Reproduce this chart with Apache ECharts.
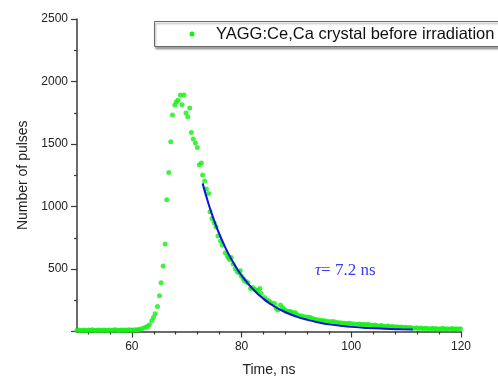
<!DOCTYPE html>
<html>
<head>
<meta charset="utf-8">
<script src="https://cdn.jsdelivr.net/npm/echarts@6/dist/echarts.min.js"></script>
<style>
html,body{margin:0;padding:0;background:#fff;}
#chart{width:498px;height:378px;}
</style>
</head>
<body>
<div id="chart"></div>
<script>
// ---- data ----
const times = [
  50.00,50.35,50.70,51.05,51.40,51.75,52.10,52.45,52.80,53.15,53.50,53.85,54.20,54.55,54.90,55.25,55.60,55.95,56.30,56.65,
  57.00,57.35,57.70,58.05,58.40,58.75,59.10,59.45,59.80,60.15,60.50,60.85,61.20,
  61.50,61.90,62.40,62.80,63.20,63.64,63.94,64.24,64.67,65.03,65.33,65.70,66.06,66.36,66.73,67.09,67.40,67.82,68.12,68.42,
  68.85,69.15,69.51,69.87,70.18,70.55,70.85,71.20,71.58,71.94,72.30,72.67,72.90,73.27,73.60,74.00,74.25,74.60,75.00,75.33,
  75.70,76.18,76.50,77.03,77.40,77.64,77.82,78.10,78.45,78.85,79.20,79.50,79.75,79.94,80.30,80.55,80.85,81.15,81.64,82.00,
  82.35,82.70,83.00,83.33,83.58,84.18,84.60,85.00,85.40,86.00,86.30,86.60,87.10,87.45,87.80,88.10,88.40,88.70,89.00,89.40,
  89.80,90.15,90.50,90.90,91.40,91.90,92.40,92.85,93.30,93.75,94.20,94.65,95.10,95.55,96.00,96.45,96.90,97.35,97.80,98.25,
  98.70,99.15,99.60,100.05,100.50,101.00,101.50,101.90,102.30,102.70,103.10,103.50,103.90,104.30,104.70,105.10,105.50,105.90,
  106.30,106.70,107.10,107.50,107.90,108.30,108.70,109.10,109.50,109.90,110.30,110.70,111.10,111.50,111.90,112.30,112.70,
  113.10,113.50,113.90,114.30,114.70,115.10,115.50,115.90,116.30,116.70,117.10,117.50,117.90,118.30,118.70,119.10,119.50,119.90
];
const counts = [
  10,12,8,11,13,9,12,10,14,9,11,13,10,8,12,11,9,13,10,12,
  14,11,9,12,10,13,11,15,12,10,14,13,16,
  17,25,33,41,55,87,113,143,201,287,391,524,700,1055,1273,1519,1732,1812,1838,1850,
  1892,1815,1892,1748,1718,1788,1593,1540,1508,1473,1335,1348,1252,1204,1140,1105,958,905,870,838,
  764,724,690,631,604,588,577,593,540,502,480,470,487,444,425,407,400,391,345,352,
  340,330,328,345,305,273,252,245,231,225,186,172,212,190,178,165,158,160,158,150,
  150,135,124,126,118,116,114,106,98,94,92,88,86,82,78,80,78,72,70,68,
  66,64,66,62,60,58,60,56,58,52,58,50,48,52,46,44,48,42,
  40,44,38,40,36,38,34,36,32,34,30,32,28,26,30,24,28,
  22,26,24,20,26,22,24,18,22,26,20,22,18,24,20,22,18,22
];
// exponential fit curve (tau = 7.2 ns)
const fitTimes  = [72.9,74,75,76,77,78,79,80,82,84,86,88,90,92,94,96,98,100,103,106,109,111.2];
const fitCounts = [1185,1018,888,774,675,589,514,448,342,261,200,154,119,93,73,57,46,37,28,22,18,16];

const xMajorTicks = [60, 80, 100, 120];
const xMinorTicks = [52, 56, 64, 68, 72, 76, 84, 88, 92, 96, 104, 108, 112, 116];
const seriesName = 'YAGG:Ce,Ca crystal before irradiation';
const annotation = '7.2 ns';

const scatterData = times.map((t, i) => [t, counts[i]]);
const fitData = fitTimes.map((t, i) => [t, fitCounts[i]]);

const axisColor = '#3a3a3a';
const green = '#11f011';
const font = 'Liberation Sans, Arial, sans-serif';

const chart = echarts.init(document.getElementById('chart'), null, {renderer: 'canvas'});
chart.setOption({
  animation: false,
  backgroundColor: '#ffffff',
  grid: {left: 77, right: 37, top: 19, bottom: 46.5, containLabel: false, outerBoundsMode: 'none'},
  xAxis: [{
    type: 'value', min: 50, max: 120,
    name: 'Time, ns', nameLocation: 'middle', nameGap: 32,
    nameTextStyle: {fontFamily: font, fontSize: 14, color: '#222'},
    axisLine: {show: true, onZero: false, lineStyle: {color: axisColor, width: 1.5}},
    axisTick: {show: true, customValues: xMajorTicks, length: 6, lineStyle: {color: axisColor, width: 1.2}},
    axisLabel: {customValues: xMajorTicks, margin: 9, fontFamily: font, fontSize: 12, color: '#222'},
    splitLine: {show: false}
  }, {
    type: 'value', min: 50, max: 120, position: 'bottom',
    axisLine: {show: false},
    axisTick: {show: true, customValues: xMinorTicks, length: 3, lineStyle: {color: axisColor, width: 1.2}},
    axisLabel: {show: false},
    splitLine: {show: false}
  }],
  yAxis: {
    type: 'value', min: 0, max: 2500, interval: 500,
    name: 'Number of pulses', nameLocation: 'middle', nameGap: 37,
    nameTextStyle: {fontFamily: font, fontSize: 14, color: '#222'},
    axisLine: {show: true, lineStyle: {color: axisColor, width: 1.5}},
    axisTick: {show: true, length: 6, lineStyle: {color: axisColor, width: 1.2}},
    minorTick: {show: true, splitNumber: 2, length: 3, lineStyle: {color: axisColor, width: 1.2}},
    axisLabel: {margin: 9, fontFamily: font, fontSize: 12, color: '#222',
      formatter: v => (v === 0 ? '' : String(v))},
    splitLine: {show: false}, minorSplitLine: {show: false}
  },
  series: [{
    name: seriesName, type: 'scatter', xAxisIndex: 0,
    data: scatterData, symbol: 'circle', symbolSize: 5,
    itemStyle: {color: green}, z: 2
  }, {
    name: 'fit', type: 'line', xAxisIndex: 0,
    data: fitData, smooth: true, showSymbol: false, symbol: 'none',
    lineStyle: {color: '#1010e0', width: 2}, z: 3
  }],
  graphic: [{
    type: 'rect', left: 154, top: 21, z: 10,
    shape: {width: 360, height: 25},
    style: {fill: '#ffffff', stroke: '#6a6a6a', lineWidth: 1,
      shadowColor: 'rgba(0,0,0,0.35)', shadowBlur: 2, shadowOffsetX: 1, shadowOffsetY: 2}
  }, {
    type: 'circle', z: 11,
    shape: {cx: 192, cy: 34, r: 2.5},
    style: {fill: green}
  }, {
    type: 'text', left: 216, top: 26, z: 11,
    style: {text: seriesName, fontFamily: font, fontSize: 16.5, fill: '#111'}
  }, {
    type: 'text', left: 315, top: 262,
    style: {
      text: '{t|τ}{n|= ' + annotation + '}',
      rich: {
        t: {fontFamily: 'Liberation Serif, Times New Roman, serif', fontStyle: 'italic', fontSize: 17, fill: '#3b3bf0'},
        n: {fontFamily: 'Liberation Serif, Times New Roman, serif', fontSize: 17, fill: '#3b3bf0'}
      }
    }
  }]
});
</script>
</body>
</html>
